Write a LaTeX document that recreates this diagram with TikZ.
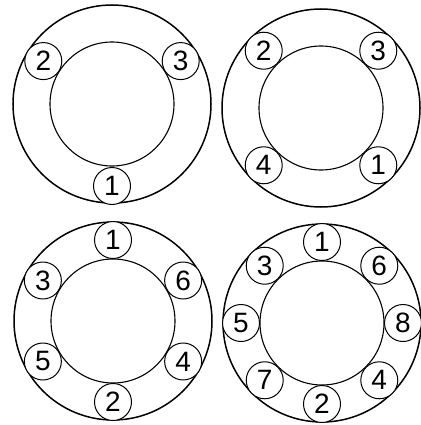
\documentclass[tikz,border=0pt]{standalone}
\usepackage{fontspec}
\setmainfont{Liberation Sans}
\begin{document}
\begin{tikzpicture}[x=1pt,y=-1pt,
  outer/.style={circle,draw,line width=1.5pt,minimum size=198pt,inner sep=0pt},
  inner/.style={circle,draw,line width=1.1pt,minimum size=124pt,inner sep=0pt},
  num/.style={circle,draw,line width=1pt,minimum size=37pt,inner sep=0pt,fill=white,
    font=\fontsize{28}{28}\selectfont}]
\useasboundingbox (0,0) rectangle (420,425);
\coordinate (c1) at (112,104);
\coordinate (c2) at (321,108);
\coordinate (c3) at (113,321);
\coordinate (c4) at (322,323);
\foreach \c in {1,2,3,4}{
  \node[outer] (o\c) at (c\c) {};
  \node[inner] (i\c) at (c\c) {};
}
% top-left
\node[num] (a1) at ([shift={(270:82pt)}]c1) {1};
\node[num] (a2) at ([shift={(148:81pt)}]c1) {2};
\node[num] (a3) at ([shift={(32:81pt)}]c1) {3};
% top-right
\node[num] (b1) at ([shift={(315:81pt)}]c2) {1};
\node[num] (b2) at ([shift={(135:81pt)}]c2) {2};
\node[num] (b3) at ([shift={(45:81pt)}]c2) {3};
\node[num] (b4) at ([shift={(225:81pt)}]c2) {4};
% bottom-left
\node[num] (d1) at ([shift={(90:81pt)}]c3) {1};
\node[num] (d2) at ([shift={(270:81pt)}]c3) {2};
\node[num] (d3) at ([shift={(150:81pt)}]c3) {3};
\node[num] (d4) at ([shift={(330:81pt)}]c3) {4};
\node[num] (d5) at ([shift={(210:81pt)}]c3) {5};
\node[num] (d6) at ([shift={(30:81pt)}]c3) {6};
% bottom-right
\node[num] (e1) at ([shift={(90:81pt)}]c4) {1};
\node[num] (e2) at ([shift={(270:81pt)}]c4) {2};
\node[num] (e3) at ([shift={(135:81pt)}]c4) {3};
\node[num] (e4) at ([shift={(315:81pt)}]c4) {4};
\node[num] (e5) at ([shift={(180:81pt)}]c4) {5};
\node[num] (e6) at ([shift={(45:81pt)}]c4) {6};
\node[num] (e7) at ([shift={(225:81pt)}]c4) {7};
\node[num] (e8) at ([shift={(0:81pt)}]c4) {8};
\end{tikzpicture}
\end{document}
